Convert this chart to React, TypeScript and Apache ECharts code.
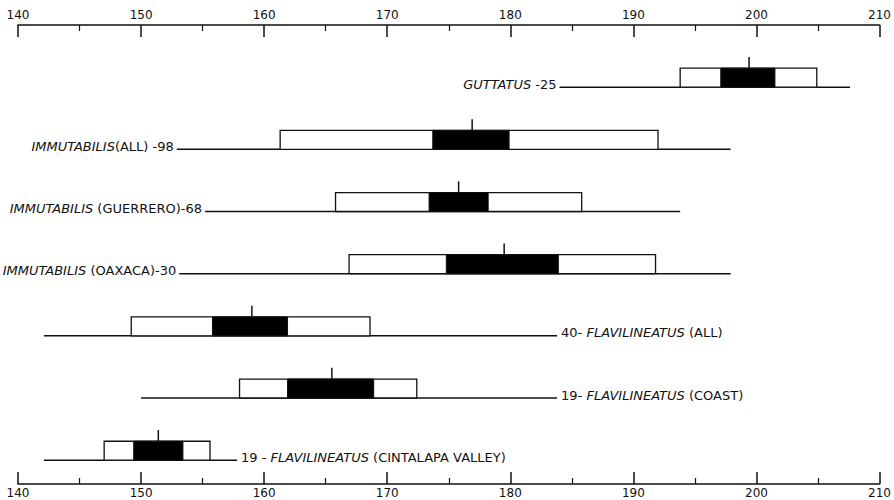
import React, { useEffect, useRef } from "react";
import * as echarts from "echarts";

// Dice–Leraas diagram data
const species = ["GUTTATUS", "IMMUTABILIS", "IMMUTABILIS", "IMMUTABILIS", "FLAVILINEATUS", "FLAVILINEATUS", "FLAVILINEATUS"];
const regions = ["", "ALL", "GUERRERO", "OAXACA", "ALL", "COAST", "CINTALAPA VALLEY"];
const sampleSizes = [25, 98, 68, 30, 40, 19, 19];
const labelOnRight = [false, false, false, false, true, true, true];

const rangeMin = [184.0, 152.9, 155.2, 153.1, 142.1, 150.0, 142.1];
const rangeMax = [207.6, 197.9, 193.8, 197.9, 183.8, 183.8, 157.8];
const sdLow = [193.8, 161.3, 165.8, 166.9, 149.2, 158.0, 147.0];
const sdHigh = [204.9, 192.0, 185.8, 191.8, 168.6, 172.4, 155.6];
const seLow = [197.1, 173.7, 173.4, 174.8, 155.8, 161.9, 149.4];
const seHigh = [201.5, 179.9, 178.2, 183.9, 161.9, 168.9, 153.4];
const means = [199.4, 176.9, 175.8, 179.5, 159.0, 165.5, 151.4];

const axisMin = 140;
const axisMax = 210;
const axisStep = 10;

const FONT = "DejaVu Sans";

function buildLabel(i: number): string {
  const sp = `{i|${species[i]}}`;
  const n = sampleSizes[i];
  const reg = regions[i];
  if (!labelOnRight[i]) {
    if (!reg) return `${sp} -${n}`;
    if (reg === "ALL") return `${sp}(${reg}) -${n}`;
    return `${sp} (${reg})-${n}`;
  }
  if (reg === "CINTALAPA VALLEY") return `${n} - ${sp} (${reg})`;
  return `${n}- ${sp} (${reg})`;
}

export default function App() {
  const ref = useRef<HTMLDivElement>(null);

  useEffect(() => {
    if (!ref.current) return;
    const chart = echarts.init(ref.current, null, { renderer: "svg" });

    const data = species.map((_, i) => [
      rangeMin[i], rangeMax[i], sdLow[i], sdHigh[i], seLow[i], seHigh[i], means[i], i,
    ]);

    const axisCommon = {
      type: "value" as const,
      min: axisMin,
      max: axisMax,
      interval: axisStep,
      splitLine: { show: false },
      axisLine: { show: true, onZero: false, lineStyle: { color: "#111", width: 1.5 } },
      axisTick: { show: true, inside: true, length: 12, lineStyle: { color: "#111", width: 1.5 } },
      minorTick: { show: true, splitNumber: 2, length: 6, lineStyle: { color: "#111", width: 1.2 } },
      minorSplitLine: { show: false },
      axisLabel: { color: "#111", fontFamily: FONT, fontSize: 12, margin: 4 },
    };

    chart.setOption({
      animation: false,
      backgroundColor: "#ffffff",
      grid: { left: 18, right: 14, top: 25, bottom: 16, containLabel: false },
      xAxis: [
        { ...axisCommon, position: "top" },
        { ...axisCommon, position: "bottom", axisLabel: { ...axisCommon.axisLabel, margin: 3 } },
      ],
      yAxis: { type: "value", min: -1, max: 6.383, inverse: true, show: false },
      series: [
        {
          type: "custom",
          xAxisIndex: 0,
          clip: false,
          encode: { x: [0, 1, 2, 3, 4, 5, 6], y: 7 },
          data,
          renderItem: (params: any, api: any) => {
            const row = api.value(7);
            const unit = api.size([0, 1])[1];
            const boxH = unit * 0.305;
            const tickH = unit * 0.18;
            const p = (v: number) => api.coord([v, row]);
            const r0 = p(api.value(0));
            const r1 = p(api.value(1));
            const s0 = p(api.value(2));
            const s1 = p(api.value(3));
            const e0 = p(api.value(4));
            const e1 = p(api.value(5));
            const m = p(api.value(6));
            const y = r0[1];
            const i = params.dataIndex;
            const right = labelOnRight[i];
            return {
              type: "group",
              children: [
                {
                  type: "line",
                  shape: { x1: r0[0], y1: y, x2: r1[0], y2: y },
                  style: { stroke: "#111", lineWidth: 1.5 },
                },
                {
                  type: "rect",
                  shape: { x: s0[0], y: y - boxH, width: s1[0] - s0[0], height: boxH },
                  style: { fill: "#fff", stroke: "#111", lineWidth: 1.3 },
                },
                {
                  type: "rect",
                  shape: { x: e0[0], y: y - boxH, width: e1[0] - e0[0], height: boxH },
                  style: { fill: "#000", stroke: "#111", lineWidth: 1 },
                },
                {
                  type: "line",
                  shape: { x1: m[0], y1: y - boxH, x2: m[0], y2: y - boxH - tickH },
                  style: { stroke: "#111", lineWidth: 1.5 },
                },
                {
                  type: "text",
                  x: right ? r1[0] + 4 : r0[0] - 3,
                  y: y - 3,
                  style: {
                    text: buildLabel(i),
                    fill: "#111",
                    font: `13px '${FONT}'`,
                    fontFamily: FONT,
                    fontSize: 13,
                    align: right ? "left" : "right",
                    verticalAlign: "middle",
                    rich: {
                      i: { fontStyle: "italic", fontFamily: FONT, fontSize: 13, fill: "#111" },
                    },
                  },
                },
              ],
            };
          },
        },
      ],
    });

    return () => chart.dispose();
  }, []);

  return (
    <div
      ref={ref}
      style={{ position: "fixed", left: 0, top: 0, width: 894, height: 500, background: "#fff" }}
    />
  );
}
